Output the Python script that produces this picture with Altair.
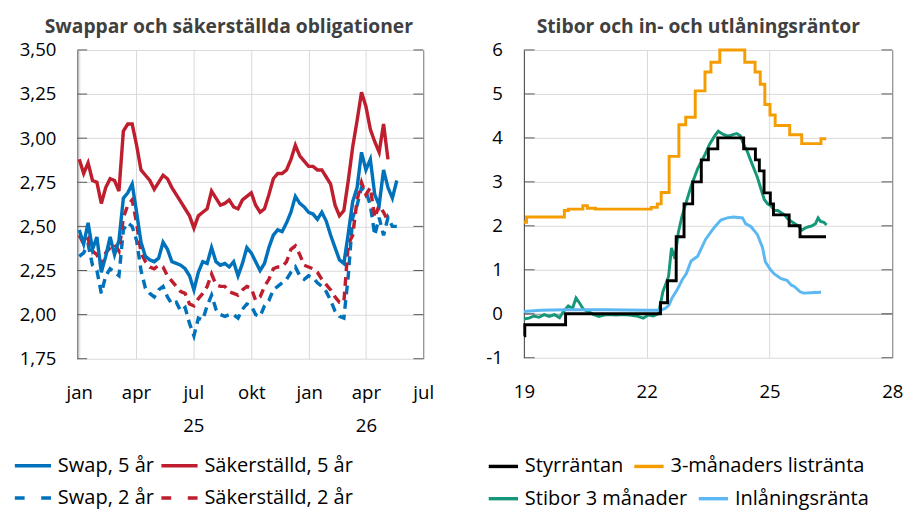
import altair as alt
import pandas as pd

FONT = "Open Sans"
BLUE = "#0072BC"
RED = "#BE1E2D"
ORANGE = "#F59C00"
GREEN = "#16977A"
LIGHTBLUE = "#5CB8F2"
GRID = "#D9D9D9"

# ---------------- Left panel: weekly observations from 2025-01-01 ----------------
week_start = "2025-01-01"
swap5 = [2.48, 2.40, 2.52, 2.37, 2.44, 2.24, 2.33, 2.44, 2.34, 2.42,
         2.66, 2.69, 2.74, 2.58, 2.41, 2.33, 2.31, 2.30, 2.32, 2.41,
         2.37, 2.30, 2.29, 2.28, 2.26, 2.22, 2.14, 2.24, 2.30, 2.29,
         2.38, 2.30, 2.28, 2.29, 2.27, 2.30, 2.22, 2.29, 2.38, 2.35,
         2.30, 2.25, 2.29, 2.38, 2.45, 2.48, 2.47, 2.52, 2.58, 2.67,
         2.63, 2.61, 2.58, 2.57, 2.54, 2.58, 2.53, 2.45, 2.38, 2.31,
         2.29, 2.46, 2.64, 2.72, 2.92, 2.82, 2.88, 2.68, 2.62, 2.82,
         2.72, 2.66, 2.76]
swap2 = [2.33, 2.35, 2.40, 2.28, 2.25, 2.12, 2.22, 2.26, 2.24, 2.22,
         2.48, 2.52, 2.50, 2.42, 2.25, 2.15, 2.12, 2.10, 2.14, 2.16,
         2.10, 2.06, 2.07, 2.02, 2.04, 1.95, 1.88, 1.98, 1.97, 2.05,
         2.11, 2.03, 2.00, 1.99, 2.00, 2.00, 1.98, 2.03, 2.06, 2.05,
         2.00, 1.99, 2.05, 2.08, 2.14, 2.16, 2.18, 2.20, 2.24, 2.27,
         2.22, 2.20, 2.22, 2.21, 2.18, 2.16, 2.13, 2.08, 2.02, 1.99,
         1.98, 2.22, 2.55, 2.62, 2.72, 2.70, 2.62, 2.45, 2.55, 2.45,
         2.55, 2.50, 2.50]
sak5 = [2.88, 2.80, 2.86, 2.76, 2.75, 2.63, 2.72, 2.77, 2.76, 2.70,
        3.04, 3.08, 3.08, 2.96, 2.82, 2.79, 2.76, 2.71, 2.75, 2.79,
        2.77, 2.72, 2.68, 2.64, 2.60, 2.56, 2.49, 2.56, 2.58, 2.60,
        2.70, 2.66, 2.62, 2.63, 2.65, 2.61, 2.60, 2.65, 2.67, 2.69,
        2.62, 2.58, 2.60, 2.68, 2.77, 2.80, 2.80, 2.82, 2.88, 2.96,
        2.90, 2.87, 2.84, 2.84, 2.82, 2.82, 2.78, 2.74, 2.62, 2.56,
        2.59, 2.76, 2.95, 3.10, 3.26, 3.18, 3.05, 2.98, 2.92, 3.08,
        2.88]
sak2 = [2.45, 2.40, 2.43, 2.36, 2.34, 2.28, 2.35, 2.38, 2.40, 2.36,
        2.55, 2.62, 2.65, 2.52, 2.35, 2.30, 2.27, 2.26, 2.28, 2.27,
        2.22, 2.19, 2.16, 2.13, 2.12, 2.06, 2.05, 2.09, 2.12, 2.16,
        2.23, 2.17, 2.16, 2.16, 2.13, 2.12, 2.11, 2.14, 2.16, 2.15,
        2.08, 2.10, 2.16, 2.20, 2.26, 2.27, 2.27, 2.30, 2.37, 2.39,
        2.34, 2.28, 2.27, 2.26, 2.24, 2.20, 2.17, 2.14, 2.10, 2.07,
        2.07, 2.40, 2.45, 2.65, 2.75, 2.68, 2.72, 2.55, 2.62, 2.58,
        2.53]
left_yticks = [1.75, 2.00, 2.25, 2.50, 2.75, 3.00, 3.25, 3.50]
month_names = ["jan", "feb", "mar", "apr", "maj", "jun", "jul", "aug", "sep", "okt", "nov", "dec"]

weeks = pd.date_range(week_start, periods=len(swap5), freq="7D").strftime("%Y-%m-%d").tolist()


def frame(dates, vals, name):
    return pd.DataFrame({"date": dates[:len(vals)], "value": vals, "series": name})


left_solid = pd.concat([frame(weeks, swap5, "Swap, 5 år"), frame(weeks, sak5, "Säkerställd, 5 år")])
left_dash = pd.concat([frame(weeks, swap2, "Swap, 2 år"), frame(weeks, sak2, "Säkerställd, 2 år")])

# ---------------- Right panel ----------------
styr_dates = ["2019-01-01", "2019-01-09", "2020-01-08", "2022-05-04", "2022-07-06", "2022-09-21",
              "2022-11-30", "2023-02-15", "2023-05-03", "2023-07-05", "2023-09-27", "2024-05-15",
              "2024-08-28", "2024-10-02", "2024-11-13", "2025-01-08", "2025-02-05", "2025-06-25",
              "2025-09-30", "2026-05-20"]
styr_vals = [-0.50, -0.25, 0.00, 0.25, 0.75, 1.75, 2.50, 3.00, 3.50, 3.75, 4.00, 3.75,
             3.50, 3.25, 2.75, 2.50, 2.25, 2.00, 1.75, 1.75]

list_dates = ["2019-01-01", "2019-01-25", "2019-12-28", "2020-02-01", "2020-06-10", "2020-07-20",
              "2020-10-01", "2022-02-10", "2022-04-05", "2022-05-10", "2022-07-20", "2022-10-15",
              "2022-12-15", "2023-03-10", "2023-06-05", "2023-07-28", "2023-10-15", "2024-05-25",
              "2024-08-25", "2024-10-10", "2024-11-20", "2025-01-05", "2025-02-20", "2025-06-30",
              "2025-10-15", "2026-04-05", "2026-05-22"]
list_vals = [2.08, 2.20, 2.35, 2.38, 2.46, 2.40, 2.38, 2.42, 2.50, 2.76, 3.58, 4.30,
             4.47, 5.07, 5.50, 5.72, 6.00, 5.72, 5.50, 5.22, 4.76, 4.52, 4.28, 4.07,
             3.87, 3.98, 3.98]

stibor_dates = ["2019-01-01", "2019-02-15", "2019-04-01", "2019-05-15", "2019-07-01", "2019-08-15",
                "2019-10-01", "2019-11-15", "2019-12-20", "2020-02-01", "2020-03-10", "2020-04-10",
                "2020-05-10", "2020-06-15", "2020-08-01", "2020-09-15", "2020-11-01", "2020-12-15",
                "2021-02-01", "2021-04-01", "2021-06-01", "2021-08-01", "2021-10-01", "2021-12-01",
                "2022-01-15", "2022-03-01", "2022-04-15", "2022-05-10", "2022-05-25", "2022-07-15",
                "2022-08-10", "2022-09-10", "2022-10-10", "2022-11-10", "2022-12-15", "2023-02-01",
                "2023-04-01", "2023-06-01", "2023-07-15", "2023-09-01", "2023-10-01", "2023-11-15",
                "2023-12-15", "2024-01-15", "2024-02-15", "2024-03-15", "2024-04-15", "2024-05-15",
                "2024-06-15", "2024-07-15", "2024-08-15", "2024-09-15", "2024-10-15", "2024-11-15",
                "2024-12-15", "2025-01-15", "2025-02-15", "2025-03-15", "2025-04-15", "2025-05-15",
                "2025-06-15", "2025-07-15", "2025-08-15", "2025-09-15", "2025-10-15", "2025-11-15",
                "2025-12-15", "2026-01-15", "2026-02-15", "2026-03-10", "2026-04-01", "2026-05-01",
                "2026-05-25"]
stibor_vals = [-0.12, -0.10, -0.05, -0.08, -0.02, -0.06, -0.02, -0.09, 0.05, 0.18, 0.12, 0.36,
               0.25, 0.10, 0.05, -0.02, -0.06, -0.03, -0.02, -0.03, -0.02, -0.03, -0.05, -0.10,
               -0.03, -0.05, 0.00, 0.30, 0.50, 0.85, 1.50, 1.25, 1.85, 2.20, 2.50, 2.90,
               3.30, 3.60, 3.85, 4.05, 4.15, 4.08, 4.05, 4.05, 4.08, 4.10, 4.05, 3.85,
               3.70, 3.50, 3.30, 3.10, 2.85, 2.60, 2.50, 2.45, 2.35, 2.35, 2.30, 2.25,
               2.15, 2.10, 2.05, 2.00, 1.90, 1.95, 1.98, 2.00, 2.05, 2.18, 2.10, 2.08,
               2.02]

inl_dates = ["2019-01-01", "2019-06-01", "2020-01-01", "2021-01-01", "2022-01-01", "2022-05-01",
             "2022-06-15", "2022-07-20", "2022-08-15", "2022-10-01", "2022-11-15", "2022-12-20",
             "2023-02-01", "2023-04-01", "2023-05-15", "2023-06-10", "2023-07-30", "2023-09-01",
             "2023-10-25", "2023-12-20", "2024-02-15", "2024-05-05", "2024-06-01", "2024-07-20",
             "2024-09-15", "2024-10-30", "2024-11-25", "2025-01-10", "2025-02-15", "2025-04-15",
             "2025-06-05", "2025-07-15", "2025-08-10", "2025-10-01", "2025-11-01", "2026-01-01",
             "2026-04-05"]
inl_vals = [0.05, 0.08, 0.09, 0.09, 0.08, 0.08, 0.12, 0.20, 0.36, 0.55, 0.78, 0.91,
            1.20, 1.31, 1.55, 1.69, 1.87, 1.98, 2.13, 2.18, 2.20, 2.18, 2.05, 1.98,
            1.80, 1.51, 1.18, 1.00, 0.90, 0.80, 0.76, 0.65, 0.62, 0.50, 0.47, 0.48,
            0.49]
right_yticks = [-1, 0, 1, 2, 3, 4, 5, 6]
right_xticks = [2019, 2022, 2025, 2028]

right_step = pd.concat([frame(styr_dates, styr_vals, "Styrräntan"),
                        frame(list_dates, list_vals, "3-månaders listränta")])
right_lin = pd.concat([frame(stibor_dates, stibor_vals, "Stibor 3 månader"),
                       frame(inl_dates, inl_vals, "Inlåningsränta")])

W1, H1 = 354, 316
W2, H2 = 377, 315
LBL = dict(labelFont=FONT, labelFontSize=19, labelColor="#000000")


def legend(x, y, size, pad, dash=None):
    kw = dict(title=None, orient="none", legendX=x, legendY=y, direction="horizontal",
              symbolType="stroke", symbolSize=size, symbolStrokeWidth=3.5,
              labelFont=FONT, labelFontSize=20.5, labelColor="#000000", labelLimit=400,
              columnPadding=pad, labelOffset=5)
    if dash:
        kw["symbolDash"] = dash
    return alt.Legend(**kw)


def title(text, dx):
    return alt.TitleParams(text, font=FONT, fontSize=19.7, fontWeight="bold", color="#404040",
                           anchor="middle", dx=dx, offset=-15, baseline="bottom")


# ---- left chart ----
ysc1 = alt.Scale(domain=[1.75, 3.5], nice=False, zero=False)
xsc1 = alt.Scale(type="utc", domain=[alt.DateTime(year=2024, month=12, date=29, utc=True),
                                     alt.DateTime(year=2026, month=7, date=1, utc=True)])
xvals1 = [alt.DateTime(year=y, month=m, date=1, utc=True)
          for (y, m) in [(2025, 1), (2025, 4), (2025, 7), (2025, 10), (2026, 1), (2026, 4), (2026, 7)]]
month_arr = "[" + ",".join("'%s'" % m for m in month_names) + "]"
x1 = alt.X("date:T", scale=xsc1, title=None,
           axis=alt.Axis(values=xvals1, grid=True, gridColor=GRID, ticks=False, domain=False,
                         labelOverlap=False, labelFlush=False, labelPadding=26, labelLineHeight=33,
                         labelExpr="[" + month_arr + "[utcmonth(datum.value)], "
                                   "(utcmonth(datum.value)==6 && utcyear(datum.value)==2025) ? '25' : "
                                   "((utcmonth(datum.value)==3 && utcyear(datum.value)==2026) ? '26' : '')]",
                         **LBL))

tick_df1 = pd.DataFrame({"v": left_yticks})
lt1 = alt.Chart(tick_df1).mark_rule(color="#595959", strokeWidth=1).encode(
    y=alt.Y("v:Q", scale=ysc1, axis=None), x=alt.value(0), x2=alt.value(10))
rt1 = alt.Chart(tick_df1).mark_rule(color="#595959", strokeWidth=1).encode(
    y=alt.Y("v:Q", scale=ysc1, title=None,
            axis=alt.Axis(orient="right", labels=False, ticks=False, grid=False,
                          domainColor="#808080", title=None)),
    x=alt.value(W1 - 10), x2=alt.value(W1))

solid1 = alt.Chart(left_solid).mark_line(strokeWidth=3.5).encode(
    x=x1,
    y=alt.Y("value:Q", scale=ysc1, title=None,
            axis=alt.Axis(values=left_yticks, grid=True, gridColor=GRID, ticks=False,
                          domainColor="#404040", labelPadding=22,
                          labelExpr="replace(format(datum.value, '.2f'), '.', ',')", **LBL)),
    color=alt.Color("series:N", scale=alt.Scale(domain=["Swap, 5 år", "Säkerställd, 5 år"],
                                                range=[BLUE, RED]),
                    legend=legend(-66, 405, 1369, 0)),
    detail="series:N")
dash1 = alt.Chart(left_dash).mark_line(strokeWidth=3.5, strokeDash=[9, 6]).encode(
    x=x1,
    y=alt.Y("value:Q", scale=ysc1, axis=None),
    stroke=alt.Stroke("series:N", scale=alt.Scale(domain=["Swap, 2 år", "Säkerställd, 2 år"],
                                                  range=[BLUE, RED]),
                      legend=legend(-66, 438, 1369, 0, dash=[10, 17])),
    detail="series:N")

left = alt.layer(lt1, rt1, dash1, solid1).resolve_axis(y="independent").properties(
    width=W1, height=H1, title=title("Swappar och säkerställda obligationer", -22))

# ---- right chart ----
ysc2 = alt.Scale(domain=[-1, 6], nice=False, zero=False)
xsc2 = alt.Scale(type="utc", domain=[alt.DateTime(year=2019, month=1, date=1, utc=True),
                                     alt.DateTime(year=2028, month=1, date=1, utc=True)])
xvals2 = [alt.DateTime(year=y, month=1, date=1, utc=True) for y in right_xticks]
x2 = alt.X("date:T", scale=xsc2, title=None,
           axis=alt.Axis(values=xvals2, grid=True, gridColor=GRID, ticks=False, domain=False,
                         labelOverlap=False, labelFlush=False, labelPadding=26,
                         labelExpr="utcFormat(datum.value, '%y')", **LBL))
tick_df2 = pd.DataFrame({"v": right_yticks})
lt2 = alt.Chart(tick_df2).mark_rule(color="#595959", strokeWidth=1).encode(
    y=alt.Y("v:Q", scale=ysc2, axis=None), x=alt.value(0), x2=alt.value(11))
rt2 = alt.Chart(tick_df2).mark_rule(color="#595959", strokeWidth=1).encode(
    y=alt.Y("v:Q", scale=ysc2, title=None,
            axis=alt.Axis(orient="right", labels=False, ticks=False, grid=False,
                          domainColor="#808080", title=None)),
    x=alt.value(W2 - 11), x2=alt.value(W2))
lin2 = alt.Chart(right_lin).mark_line(strokeWidth=3).encode(
    x=x2,
    y=alt.Y("value:Q", scale=ysc2, axis=None),
    stroke=alt.Stroke("series:N", scale=alt.Scale(domain=["Stibor 3 månader", "Inlåningsränta"],
                                                  range=[GREEN, LIGHTBLUE]),
                      legend=legend(-38, 442, 900, 4)),
    detail="series:N")
step2 = alt.Chart(right_step).mark_line(strokeWidth=3, interpolate="step-after").encode(
    x=x2,
    y=alt.Y("value:Q", scale=ysc2, title=None,
            axis=alt.Axis(values=right_yticks, ticks=False, domainColor="#404040", labelPadding=22,
                          grid=True, labelExpr="toString(datum.value)",
                          gridColor={"condition": {"test": "datum.value === 0", "value": "#8C8C8C"},
                                     "value": GRID},
                          **LBL)),
    color=alt.Color("series:N", scale=alt.Scale(domain=["Styrräntan", "3-månaders listränta"],
                                                range=["#000000", ORANGE]),
                    legend=legend(-38, 409, 900, 4)),
    detail="series:N")

right = alt.layer(lt2, rt2, lin2, step2).resolve_axis(y="independent").properties(
    width=W2, height=H2, title=title("Stibor och in- och utlåningsräntor", -10))

chart = alt.hconcat(left, right, spacing=53).resolve_scale(color="independent", stroke="independent").properties(
    padding={"left": 5, "top": 3, "right": 0, "bottom": 0}
).configure(font=FONT).configure_view(stroke=None)

chart.save("out.html", embed_options={"renderer": "svg", "actions": False})
